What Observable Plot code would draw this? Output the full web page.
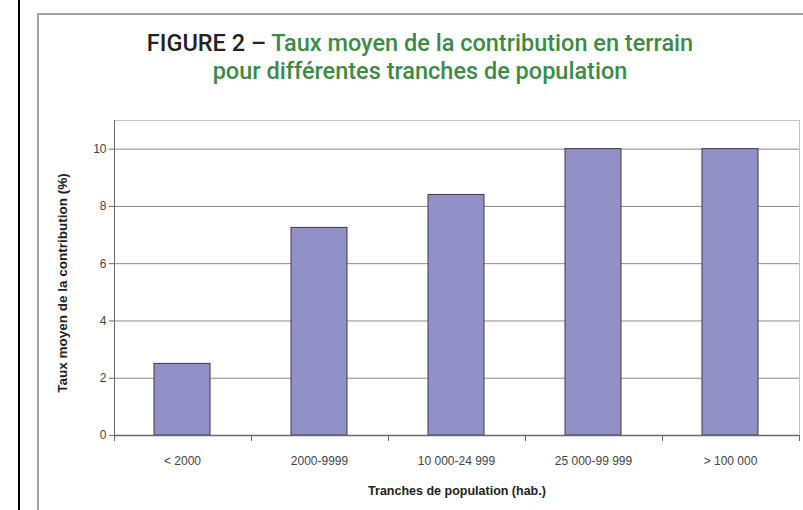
<!DOCTYPE html>
<html><head><meta charset="utf-8">
<script src="https://cdn.jsdelivr.net/npm/d3@7"></script>
<script src="https://cdn.jsdelivr.net/npm/@observablehq/plot@0.6"></script>
<style>
html,body{margin:0;padding:0;background:#fff}
body{width:803px;height:510px;overflow:hidden;position:relative;font-family:Arial,"Liberation Sans",sans-serif}
#blk{position:absolute;left:18px;top:0;width:2px;height:510px;background:#000}
#frm{position:absolute;left:37px;top:13px;width:766px;height:497px;border-top:2px solid #a4a4a4;border-left:2px solid #a4a4a4;box-sizing:border-box}
#title{position:absolute;left:70px;width:700px;top:29px;text-align:center;font-family:Roboto,sans-serif;font-weight:500;font-size:23.5px;line-height:28px;color:#3d8c46}
#title .k{color:#222}
#chart{position:absolute;left:0;top:100px}
#ylab{position:absolute;left:62px;top:283px;transform:translate(-50%,-50%) rotate(-90deg);white-space:nowrap;font-weight:bold;font-size:13.5px;color:#222}
#xlab{position:absolute;left:457px;top:491px;transform:translate(-50%,-50%);white-space:nowrap;font-weight:bold;font-size:12.5px;color:#222}
</style>
</head><body>
<div id="blk"></div>
<div id="frm"></div>
<div id="title"><span class="k">FIGURE 2 – </span>Taux moyen de la contribution en terrain<br>pour différentes tranches de population</div>
<div id="chart"></div>
<div id="ylab">Taux moyen de la contribution (%)</div>
<div id="xlab">Tranches de population (hab.)</div>
<script>
const categories = ["< 2000", "2000-9999", "10 000-24 999", "25 000-99 999", "> 100 000"];
const values = [2.5, 7.25, 8.4, 10, 10];
const yTicks = [0, 2, 4, 6, 8, 10];
const yMax = 11;

const data = categories.map((c, i) => ({cat: c, val: values[i]}));

function axisLines(index, scales, vals, dims) {
  const x = scales.x, y = scales.y;
  const bw = x.bandwidth(), step = x.step();
  const gap = (step - bw) / 2;
  const y0 = y(0);
  const g = d3.create("svg:g").attr("stroke", "#6a6a6a").attr("fill", "none");
  g.append("line").attr("x1", dims.marginLeft + 0.5).attr("x2", dims.marginLeft + 0.5)
    .attr("y1", dims.marginTop).attr("y2", y0);
  g.append("line").attr("x1", dims.marginLeft).attr("x2", dims.width - dims.marginRight)
    .attr("y1", y0 + 0.5).attr("y2", y0 + 0.5).attr("stroke-width", 1.3);
  const bounds = [x(categories[0]) - gap, ...categories.map(c => x(c) + bw + gap)];
  for (const b of bounds) {
    g.append("line").attr("x1", Math.round(b) + 0.5).attr("x2", Math.round(b) + 0.5)
      .attr("y1", y0).attr("y2", y0 + 6);
  }
  return g.node();
}

const plot = Plot.plot({
  width: 803,
  height: 410,
  marginTop: 20,
  marginLeft: 114,
  marginRight: 4,
  marginBottom: 75,
  style: {fontFamily: "Arial, 'Liberation Sans', sans-serif", fontSize: "12px", color: "#444", background: "transparent"},
  x: {domain: categories, paddingInner: 0.59, paddingOuter: 0.295, label: null},
  y: {domain: [0, yMax], label: null},
  marks: [
    Plot.frame({stroke: "#c4c4c4"}),
    Plot.gridY(yTicks.filter(d => d > 0), {stroke: "#8a8a8a", strokeOpacity: 1}),
    Plot.barY(data, {x: "cat", y: "val", fill: "#9191c8", stroke: "#3a3a4a", strokeWidth: 1}),
    Plot.axisY({ticks: yTicks, tickSize: 5, tickPadding: 3, stroke: "#6a6a6a", fill: "#444", fontSize: 12, label: null}),
    Plot.axisX({tickSize: 0, tickPadding: 21, fill: "#444", fontSize: 12, label: null}),
    axisLines
  ]
});
document.getElementById("chart").appendChild(plot);
</script>
</body></html>
